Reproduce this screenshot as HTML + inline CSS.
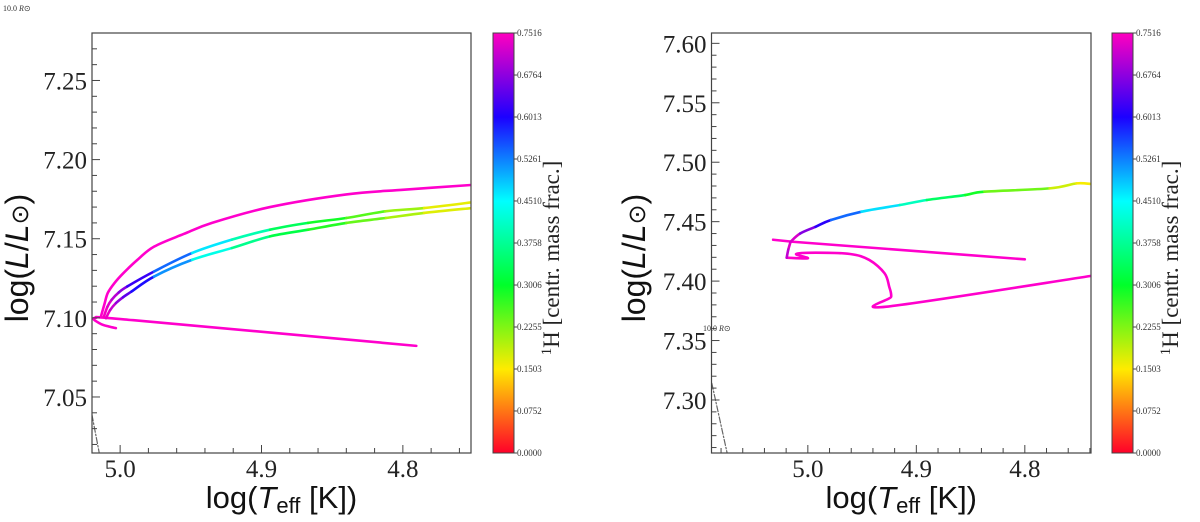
<!DOCTYPE html>
<html><head><meta charset="utf-8"><style>
body{margin:0;background:#fff;}
svg{display:block;}
</style></head><body>
<svg id="fig" width="1200" height="522" xmlns="http://www.w3.org/2000/svg">
<defs>
<linearGradient id="cbgrad" x1="0" y1="1" x2="0" y2="0">
<stop offset="0" stop-color="#ff0029"/><stop offset="0.2" stop-color="#ffeb00"/><stop offset="0.4" stop-color="#00ff2a"/><stop offset="0.6" stop-color="#00ffff"/><stop offset="0.8" stop-color="#1c00ff"/><stop offset="1" stop-color="#ff00bf"/>
</linearGradient>
</defs>
</svg>
<script>
// ---- Left panel data ----
const leftPinkUpperT=[5.0136,5.011,5.0087,5.004,4.998,4.988,4.976,4.955,4.935,4.894,4.840,4.799,4.751];
const leftPinkUpperL=[7.1008,7.109,7.1158,7.122,7.128,7.1365,7.145,7.153,7.160,7.170,7.178,7.181,7.184];
const leftPinkLowerT=[5.003,5.008,5.014,5.0175,4.9905,4.7905];
const leftPinkLowerL=[7.0935,7.0945,7.0963,7.100,7.0985,7.0823];
const leftTrackAT=[5.0115,5.009,5.006,5.001,4.995,4.976,4.949,4.921,4.894,4.867,4.840,4.8124,4.785,4.751];
const leftTrackAL=[7.1008,7.107,7.1114,7.116,7.1198,7.1293,7.141,7.1494,7.1557,7.160,7.1631,7.1673,7.1694,7.173];
const leftTrackAH=[0.75,0.74,0.72,0.69,0.66,0.58,0.50,0.43,0.36,0.31,0.27,0.23,0.19,0.14];
const leftTrackBT=[5.010,5.007,5.003,4.998,4.992,4.976,4.949,4.921,4.894,4.867,4.840,4.812,4.785,4.751];
const leftTrackBL=[7.0998,7.105,7.1093,7.113,7.1166,7.1261,7.1367,7.1441,7.1515,7.1557,7.160,7.1631,7.1663,7.1694];
const leftTrackBH=[0.75,0.73,0.70,0.66,0.63,0.56,0.47,0.40,0.34,0.30,0.26,0.22,0.18,0.16];
const leftRadT=[5.0199,5.0149];
const leftRadL=[7.0386,7.0152];
const leftYTicks=[7.05,7.10,7.15,7.20,7.25];
const leftXTicks=[5.0,4.9,4.8];
// ---- Right panel data ----
const rightTrackT=[5.0159,5.0071,4.9929,4.9787,4.9505,4.9151,4.8903,4.8549,4.8373,4.7771,4.7523,4.7396];
const rightTrackL=[7.4331,7.440,7.4457,7.4514,7.4584,7.464,7.4682,7.4724,7.4752,7.478,7.4822,7.4817];
const rightTrackH=[0.75,0.70,0.64,0.58,0.50,0.44,0.37,0.31,0.27,0.20,0.16,0.15];
const rightPink1T=[5.032,5.014,4.800];
const rightPink1L=[7.4348,7.4331,7.4183];
const rightPink2T=[5.0195,5.000,5.0108,4.9929,4.961,4.9434,4.9293,4.925,4.9232,4.9275,4.7396];
const rightPink2L=[7.4197,7.4192,7.4228,7.4239,7.4228,7.4178,7.4066,7.3953,7.3869,7.3785,7.4043];
const rightLoopT=[5.0159,5.018,5.0195];
const rightLoopL=[7.4331,7.4265,7.4197];
const rightLoopH=[0.74,0.72,0.70];
const rightRadT=[5.0885,5.0742];
const rightRadL=[7.314,7.2546];
const rightYTicks=[7.30,7.35,7.40,7.45,7.50,7.55,7.60];
const rightXTicks=[5.0,4.9,4.8];
const cbTicks=[0.0000,0.0752,0.1503,0.2255,0.3006,0.3758,0.4510,0.5261,0.6013,0.6764,0.7516];
const HMAX=0.7516;

const svg=document.getElementById('fig');
const NS='http://www.w3.org/2000/svg';
function mk(tag,attrs,parent){const e=document.createElementNS(NS,tag);for(const k in attrs)e.setAttribute(k,attrs[k]);(parent||svg).appendChild(e);return e;}
const stops=[[0,[255,0,41]],[0.2,[255,235,0]],[0.4,[0,255,42]],[0.6,[0,255,255]],[0.8,[28,0,255]],[1,[255,0,191]]];
function cmap(h){let f=Math.max(0,Math.min(1,h/HMAX));for(let i=0;i<stops.length-1;i++){const a=stops[i],b=stops[i+1];if(f<=b[0]){const t=(f-a[0])/(b[0]-a[0]);const c=a[1].map((v,j)=>Math.round(v+(b[1][j]-v)*t));return `rgb(${c})`;}}return 'rgb(255,0,191)';}
function smoothPath(P){let d='M'+P[0][0]+','+P[0][1];for(let i=0;i<P.length-1;i++){const p0=P[i-1]||P[i],p1=P[i],p2=P[i+1],p3=P[i+2]||P[i+1];const c1=[p1[0]+(p2[0]-p0[0])/6,p1[1]+(p2[1]-p0[1])/6],c2=[p2[0]-(p3[0]-p1[0])/6,p2[1]-(p3[1]-p1[1])/6];d+=` C${c1} ${c2} ${p2}`;}return d;}

function panel(p){
  const g=mk('g',{});
  
  
  const X=t=>p.x0+(p.t0-t)/(p.t0-p.t1)*(p.x1-p.x0);
  const Y=l=>p.y1-(l-p.l0)/(p.l1-p.l0)*(p.y1-p.y0);
  const clip='clip'+p.name;
  const cp=mk('clipPath',{id:clip},g);mk('rect',{x:p.x0,y:p.y0,width:p.x1-p.x0,height:p.y1-p.y0},cp);
  const plot=mk('g',{'clip-path':`url(#${clip})`},g);
  function line(T,L,color,name,dash,smooth){const P=T.map((t,i)=>[X(t),Y(L[i])]);const pl=mk('path',{d:smooth?smoothPath(P):'M'+P.join(' L'),fill:'none',stroke:color,'stroke-width':dash?1.2:2.6,'stroke-linejoin':'round','stroke-linecap':'round'},plot);if(dash)pl.setAttribute('stroke-dasharray','6,2,1.5,2');}
  function cline(T,L,H,name){const gg=mk('g',{},plot);const P=T.map((t,i)=>[X(t),Y(L[i])]);for(let i=0;i<P.length-1;i++){const p0=P[i-1]||P[i],p1=P[i],p2=P[i+1],p3=P[i+2]||P[i+1];const c1=[p1[0]+(p2[0]-p0[0])/6,p1[1]+(p2[1]-p0[1])/6],c2=[p2[0]-(p3[0]-p1[0])/6,p2[1]-(p3[1]-p1[1])/6];const s=mk('path',{d:`M${p1} C${c1} ${c2} ${p2}`,fill:'none',stroke:cmap((H[i]+H[i+1])/2),'stroke-width':2.6,'stroke-linecap':'round'},gg);}}
  p.draw(line,cline);
  const fr=mk('rect',{x:p.x0,y:p.y0,width:p.x1-p.x0,height:p.y1-p.y0,fill:'none',stroke:'#444','stroke-width':1.2},g);
  
  for(let v=Math.ceil(p.t1*50);v<=Math.floor(p.t0*50);v++){const t=v/50;const x=X(t);const major=v%5===0;mk('line',{x1:x,x2:x,y1:p.y1,y2:p.y1-(major?8:5),stroke:'#444','stroke-width':1},g);}
  p.xt.forEach(t=>{const tx=mk('text',{x:X(t),y:p.y1+24,'font-family':'Liberation Serif, serif','font-size':25,'text-anchor':'middle',fill:'#222'},g);tx.textContent=t.toFixed(1);});
  for(let v=Math.ceil(p.l0*100);v<=Math.floor(p.l1*100);v++){const y=Y(v/100);const major=v%5===0;mk('line',{x1:p.x0,x2:p.x0+(major?8:5),y1:y,y2:y,stroke:'#444','stroke-width':1},g);}
  p.yt.forEach(l=>{const tx=mk('text',{x:p.x0-5,y:Y(l)+9,'font-family':'Liberation Serif, serif','font-size':25,'text-anchor':'end',fill:'#222'},g);tx.textContent=l.toFixed(2);});
  const xl=mk('text',{x:(p.x0+p.x1)/2,y:508,'font-family':'Liberation Sans, sans-serif','font-size':31,'text-anchor':'middle',fill:'#111'},g);
  xl.innerHTML='log(<tspan font-style="italic">T</tspan><tspan font-size="22" dy="5">eff</tspan><tspan dy="-5"> [K])</tspan>';
  
  const yl=mk('text',{x:0,y:0,transform:`translate(${p.ylx},${(p.y0+p.y1)/2+15}) rotate(-90)`,'font-family':'Liberation Sans, sans-serif','font-size':32,'text-anchor':'middle',fill:'#111'},g);
  yl.innerHTML='log(<tspan font-style="italic">L</tspan>/<tspan font-style="italic">L</tspan><tspan font-size="24">⊙</tspan>)';
  
  const cb=mk('g',{},g);
  mk('rect',{x:p.cx,y:p.y0,width:21,height:p.y1-p.y0,fill:'url(#cbgrad)',stroke:'#444','stroke-width':1},cb);
  cbTicks.forEach(v=>{const y=p.y1-v/HMAX*(p.y1-p.y0);mk('line',{x1:p.cx+21,x2:p.cx+24,y1:y,y2:y,stroke:'#444'},cb);const t=mk('text',{x:p.cx+24,y:y+3,'font-family':'Liberation Serif, serif','font-size':9,fill:'#333'},cb);t.textContent=v.toFixed(4);});
  const cl=mk('text',{x:0,y:0,transform:`translate(${p.cx+66},${(p.y0+p.y1)/2+15}) rotate(-90)`,'font-family':'Liberation Serif, serif','font-size':23,'text-anchor':'middle',fill:'#222'},cb);
  cl.innerHTML='<tspan font-size="15" dy="-8">1</tspan><tspan dy="8">H [centr. mass frac.]</tspan>';
  
  return {X,Y,g};
}

panel({name:'left-panel',x0:92,x1:471,y0:33,y1:453,t0:5.0199,t1:4.7518,l0:7.0146,l1:7.280,xt:leftXTicks,yt:leftYTicks,ylx:28,cx:493,
  draw:(line,cline)=>{line(leftRadT,leftRadL,'#666','radius-line',true);line(leftPinkLowerT,leftPinkLowerL,'#ff00cc','pink-track-lower',false,true);line(leftPinkUpperT,leftPinkUpperL,'#ff00cc','pink-track-upper',false,true);cline(leftTrackAT,leftTrackAL,leftTrackAH,'colored-track-a');cline(leftTrackBT,leftTrackBL,leftTrackBH,'colored-track-b');}});
const lab1=mk('text',{x:3,y:11,'font-family':'Liberation Serif, serif','font-size':8,fill:'#333'});lab1.innerHTML='10.0 <tspan font-style="italic">R</tspan>⊙';

panel({name:'right-panel',x0:711.5,x1:1091,y0:33,y1:453,t0:5.0888,t1:4.739,l0:7.2554,l1:7.6087,xt:rightXTicks,yt:rightYTicks,ylx:645,cx:1112,
  draw:(line,cline)=>{line(rightRadT,rightRadL,'#666','radius-line',true);line(rightPink1T,rightPink1L,'#ff00cc','pink-track-1');line(rightPink2T,rightPink2L,'#ff00cc','pink-track-2',false,true);cline(rightLoopT,rightLoopL,rightLoopH,'purple-loop');cline(rightTrackT,rightTrackL,rightTrackH,'colored-track');}});
const lab2=mk('text',{x:703,y:331,'font-family':'Liberation Serif, serif','font-size':8,fill:'#333'});lab2.innerHTML='10.0 <tspan font-style="italic">R</tspan>⊙';

</script>
</body></html>
